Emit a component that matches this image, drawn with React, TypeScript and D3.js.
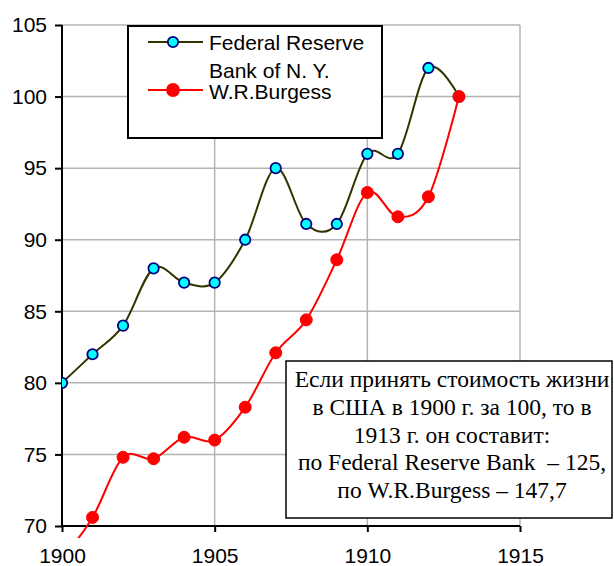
import React, { useEffect, useRef } from "react";
import * as d3 from "d3";

// years on the x axis
const years: number[] = [1900, 1901, 1902, 1903, 1904, 1905, 1906, 1907, 1908, 1909, 1910, 1911, 1912, 1913];
// Federal Reserve Bank of N.Y. index (1913 = 100)
const fedValues: number[] = [80, 82, 84, 88, 87, 87, 90, 95, 91.1, 91.1, 96, 96, 102, 100];
// W.R.Burgess index (1913 = 100)
const burgessValues: number[] = [67.7, 70.6, 74.8, 74.7, 76.2, 76.0, 78.3, 82.1, 84.4, 88.6, 93.3, 91.6, 93.0, 100];

const xTicks: number[] = [1900, 1905, 1910, 1915];
const yTicks: number[] = [70, 75, 80, 85, 90, 95, 100, 105];

const legendLabels: string[][] = [["Federal Reserve", "Bank of N. Y."], ["W.R.Burgess"]];
const noteLines: string[] = [
  "Если принять стоимость жизни",
  "в США в 1900 г. за 100, то в",
  "1913 г. он составит:",
  "по Federal Reserve Bank  – 125,",
  "по W.R.Burgess – 147,7",
];

export default function App() {
  const ref = useRef<SVGSVGElement>(null);

  useEffect(() => {
    const width = 614;
    const height = 566;
    const margin = { top: 25, right: 94, bottom: 40, left: 62 };
    const innerWidth = width - margin.left - margin.right;
    const innerHeight = height - margin.top - margin.bottom;

    const svg = d3.select(ref.current);
    svg.selectAll("*").remove();

    const x = d3.scaleLinear().domain([1900, 1915]).range([0, innerWidth]);
    const y = d3.scaleLinear().domain([70, 105]).range([innerHeight, 0]);

    const g = svg.append("g").attr("transform", `translate(${margin.left}, ${margin.top})`);

    // clip lines a bit below the x axis (red series starts below 70)
    svg.append("defs").append("clipPath").attr("id", "plotclip")
      .append("rect").attr("x", 0).attr("y", 0).attr("width", innerWidth).attr("height", innerHeight + 12);

    // gridlines
    g.selectAll("line.hgrid")
      .data(yTicks.filter(d => d > 70))
      .join("line")
      .attr("class", "hgrid")
      .attr("x1", 0).attr("x2", innerWidth)
      .attr("y1", d => y(d)).attr("y2", d => y(d))
      .attr("stroke", "#b4b4b4").attr("stroke-width", 1.5);
    g.selectAll("line.vgrid")
      .data(xTicks.filter(d => d > 1900))
      .join("line")
      .attr("class", "vgrid")
      .attr("x1", d => x(d)).attr("x2", d => x(d))
      .attr("y1", 0).attr("y2", innerHeight)
      .attr("stroke", "#b4b4b4").attr("stroke-width", 1.5);

    // axes
    const xAxis = d3.axisBottom(x).tickValues(xTicks).tickFormat(d3.format("d")).tickSize(6).tickPadding(16);
    const yAxis = d3.axisLeft(y).tickValues(yTicks).tickSize(7).tickPadding(8);

    const gx = g.append("g").attr("transform", `translate(0, ${innerHeight})`).call(xAxis);
    const gy = g.append("g").call(yAxis);
    [gx, gy].forEach(ax => {
      ax.select(".domain").attr("stroke", "#000").attr("stroke-width", 2);
      ax.selectAll(".tick line").attr("stroke", "#000").attr("stroke-width", 2);
      ax.selectAll(".tick text")
        .attr("font-family", "Arial, 'Liberation Sans', sans-serif")
        .attr("font-size", 21)
        .attr("fill", "#000");
    });
    gy.select(".domain").attr("d", `M0,${innerHeight}V0`);
    gx.select(".domain").attr("d", `M0,0H${innerWidth}`);

    const lines = g.append("g").attr("clip-path", "url(#plotclip)");
    const line = d3.line<number>()
      .x((_, i) => x(years[i]))
      .y(d => y(d))
      .curve(d3.curveCatmullRom.alpha(0));

    lines.append("path").datum(fedValues)
      .attr("d", line).attr("fill", "none")
      .attr("stroke", "#333300").attr("stroke-width", 2);
    lines.append("path").datum(burgessValues)
      .attr("d", line).attr("fill", "none")
      .attr("stroke", "#ff0000").attr("stroke-width", 2);

    lines.selectAll("circle.fed")
      .data(fedValues)
      .join("circle")
      .attr("class", "fed")
      .attr("cx", (_, i) => x(years[i])).attr("cy", d => y(d))
      .attr("r", 5.2)
      .attr("fill", "#00ffff").attr("stroke", "#000080").attr("stroke-width", 1.8);
    lines.selectAll("circle.bur")
      .data(burgessValues.filter(d => d >= 70))
      .join("circle")
      .attr("class", "bur")
      .attr("cx", d => x(years[burgessValues.indexOf(d)])).attr("cy", d => y(d))
      .attr("r", 6)
      .attr("fill", "#ff0000").attr("stroke", "#ff0000").attr("stroke-width", 1);

    // legend
    const legend = svg.append("g");
    legend.append("rect")
      .attr("x", 128).attr("y", 26).attr("width", 254).attr("height", 112)
      .attr("fill", "#fff").attr("stroke", "#000").attr("stroke-width", 2);
    const entries = [
      { color: "#333300", fill: "#00ffff", stroke: "#000080", r: 5.2, ly: 42, ty: [50, 78] },
      { color: "#ff0000", fill: "#ff0000", stroke: "#ff0000", r: 6, ly: 90, ty: [99] },
    ];
    entries.forEach((e, k) => {
      legend.append("line")
        .attr("x1", 148).attr("x2", 203).attr("y1", e.ly).attr("y2", e.ly)
        .attr("stroke", e.color).attr("stroke-width", 2);
      legend.append("circle")
        .attr("cx", 173).attr("cy", e.ly).attr("r", e.r)
        .attr("fill", e.fill).attr("stroke", e.stroke).attr("stroke-width", 1.8);
      legendLabels[k].forEach((t, j) => {
        legend.append("text")
          .attr("x", 209).attr("y", e.ty[j])
          .attr("font-family", "Arial, 'Liberation Sans', sans-serif")
          .attr("font-size", 21)
          .text(t);
      });
    });

    // note box
    const note = svg.append("g");
    note.append("rect")
      .attr("x", 286).attr("y", 361).attr("width", 326).attr("height", 157)
      .attr("fill", "#fff").attr("stroke", "#000").attr("stroke-width", 1.5);
    note.selectAll("text")
      .data(noteLines)
      .join("text")
      .attr("x", 452)
      .attr("y", (_, i) => 387 + i * 27.8)
      .attr("text-anchor", "middle")
      .attr("font-family", "'Times New Roman', 'Liberation Serif', serif")
      .attr("font-size", 23.5)
      .attr("xml:space", "preserve")
      .style("white-space", "pre")
      .text(d => d);
  }, []);

  return (
    <svg ref={ref} width={614} height={566}
      style={{ position: "absolute", left: 0, top: 0, background: "#fff" }} />
  );
}
